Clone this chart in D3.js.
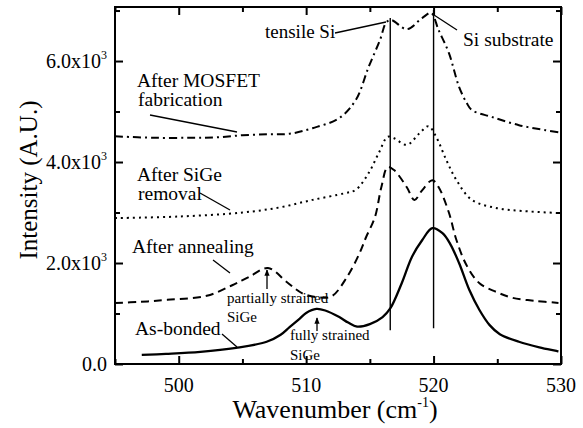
<!DOCTYPE html>
<html>
<head>
<meta charset="utf-8">
<script src="https://cdn.jsdelivr.net/npm/d3@7"></script>
</head>
<body style="margin:0">
<svg id="chart" width="583" height="428"></svg>
<script>
// ---------- data ----------
const xDomain = [495, 530];
const yDomain = [0, 7070];
const xMajorTicks = [500, 510, 520, 530];
const xMinorTicks = [495, 505, 515, 525];
const yMajorTicks = [0, 2000, 4000, 6000];
const yMinorTicks = [1000, 3000, 5000, 7000];
const yTickLabels = ["0.0", "2.0x10", "4.0x10", "6.0x10"];
const yTickSup = ["", "3", "3", "3"];

const asBondedWn = [497.1, 499, 501.7, 504.5, 506.9, 508, 508.7, 509.5, 510.0, 510.8, 511.5, 512.6, 513.3, 514.0, 515.0, 516.0, 516.6, 517.5, 518.3, 519.1, 519.9, 520.7, 521.3, 522.0, 522.8, 523.6, 524.4, 525.2, 526.7, 528.3, 529.8];
const asBondedI  = [180, 200, 240, 320, 440, 580, 730, 900, 1010, 1090, 1060, 930, 820, 740, 790, 930, 1100, 1600, 2120, 2450, 2690, 2590, 2380, 2000, 1470, 1070, 770, 590, 440, 330, 250];

const annealWn = [495, 497, 499.1, 502.2, 504.2, 505.5, 507.0, 508.5, 509.7, 511.0, 512.0, 513.2, 514.2, 514.7, 515.4, 515.9, 516.4, 516.9, 517.9, 518.5, 519.1, 519.9, 520.4, 521.2, 521.8, 522.6, 523.6, 524.9, 526.2, 528, 529.8];
const annealI  = [1210, 1230, 1270, 1350, 1560, 1720, 1900, 1620, 1400, 1320, 1340, 1720, 2200, 2510, 2910, 3500, 3900, 3840, 3500, 3250, 3440, 3640, 3500, 3000, 2450, 1950, 1600, 1430, 1310, 1250, 1210];

const removalWn = [495, 500, 505, 507.9, 510.5, 513, 513.9, 514.9, 515.7, 516.4, 516.9, 517.9, 518.9, 519.6, 520.2, 521.0, 521.8, 523.0, 524.9, 527, 529.8];
const removalI  = [2890, 2920, 3000, 3100, 3250, 3380, 3450, 3780, 4180, 4500, 4470, 4340, 4570, 4710, 4500, 4040, 3640, 3250, 3090, 3030, 2990];

const mosfetWn = [495, 498, 501, 503, 505, 507, 508.7, 510.5, 512.6, 513.9, 514.9, 515.8, 516.3, 516.7, 517.9, 519.1, 519.8, 520.4, 521.2, 522.0, 522.6, 523.0, 524.6, 526.7, 528.8, 529.8];
const mosfetI  = [4510, 4480, 4480, 4490, 4530, 4550, 4560, 4670, 4870, 5230, 5880, 6420, 6770, 6810, 6630, 6850, 6950, 6610, 6160, 5490, 5170, 5030, 4890, 4730, 4630, 4590];

// reference vertical lines: tensile Si and Si substrate
const refLineWn = [516.6, 520.0];
const refLineTop = [6850, 7010];
const refLineBottom = [670, 710];

// ---------- layout ----------
const FONT = "Times";
const margin = { left: 115, right: 22, top: 7, bottom: 64 };
const W = 583, H = 428;
const svg = d3.select("#chart");
const x = d3.scaleLinear().domain(xDomain).range([margin.left, W - margin.right]);
const y = d3.scaleLinear().domain(yDomain).range([H - margin.bottom, margin.top]);

function txt(sel) { return sel.append("text").style("font-family", `"${FONT}"`); }

const series = [
  { wn: asBondedWn, I: asBondedI, dash: null, width: 2.3 },
  { wn: annealWn, I: annealI, dash: "8,5", width: 2 },
  { wn: removalWn, I: removalI, dash: "2,4", width: 2 },
  { wn: mosfetWn, I: mosfetI, dash: "8,4,2,4", width: 2 }
];

const line = d3.line().x(d => x(d[0])).y(d => y(d[1])).curve(d3.curveCatmullRom.alpha(0.5));

series.forEach(s => {
  svg.append("path")
    .datum(s.wn.map((w, i) => [w, s.I[i]]))
    .attr("d", line)
    .attr("fill", "none")
    .attr("stroke", "#000")
    .attr("stroke-width", s.width)
    .attr("stroke-dasharray", s.dash);
});

// vertical reference lines
svg.selectAll(".ref").data(refLineWn).enter().append("line")
  .attr("x1", d => x(d)).attr("x2", d => x(d))
  .attr("y1", (d, i) => y(refLineTop[i])).attr("y2", (d, i) => y(refLineBottom[i]))
  .attr("stroke", "#000").attr("stroke-width", 1.4);

// ---------- axes ----------
const yb = H - margin.bottom, yt = margin.top, xl = margin.left, xr = W - margin.right;
function styleAxis(g) {
  g.select(".domain").remove();
  g.selectAll("line").attr("stroke", "#000").attr("stroke-width", 2);
  g.selectAll("text").remove();
}
svg.append("g").attr("transform", `translate(0,${yb})`).call(d3.axisBottom(x).tickValues(xMajorTicks).tickSize(-8)).call(styleAxis);
svg.append("g").attr("transform", `translate(0,${yb})`).call(d3.axisBottom(x).tickValues(xMinorTicks).tickSize(-5)).call(styleAxis);
svg.append("g").attr("transform", `translate(0,${yt})`).call(d3.axisTop(x).tickValues(xMajorTicks).tickSize(-8)).call(styleAxis);
svg.append("g").attr("transform", `translate(0,${yt})`).call(d3.axisTop(x).tickValues(xMinorTicks).tickSize(-5)).call(styleAxis);
svg.append("g").attr("transform", `translate(${xl},0)`).call(d3.axisLeft(y).tickValues(yMajorTicks).tickSize(-8)).call(styleAxis);
svg.append("g").attr("transform", `translate(${xl},0)`).call(d3.axisLeft(y).tickValues(yMinorTicks).tickSize(-5)).call(styleAxis);
svg.append("g").attr("transform", `translate(${xr},0)`).call(d3.axisRight(y).tickValues(yMajorTicks).tickSize(-8)).call(styleAxis);
svg.append("g").attr("transform", `translate(${xr},0)`).call(d3.axisRight(y).tickValues(yMinorTicks).tickSize(-5)).call(styleAxis);

// frame
svg.append("rect").attr("x", xl).attr("y", yt).attr("width", xr - xl).attr("height", yb - yt)
  .attr("fill", "none").attr("stroke", "#000").attr("stroke-width", 2);

// x tick labels
xMajorTicks.forEach(v => {
  txt(svg).attr("x", x(v)).attr("y", 392).attr("text-anchor", "middle")
    .attr("font-size", 20).text(v);
});

// y tick labels
yMajorTicks.forEach((v, i) => {
  const t = txt(svg).attr("x", 107).attr("y", y(v) + 7)
    .attr("text-anchor", "end").attr("font-size", 20);
  t.append("tspan").text(yTickLabels[i]);
  if (yTickSup[i]) t.append("tspan").attr("dy", -9).attr("font-size", 12).text(yTickSup[i]);
});

// axis titles
const xt = txt(svg).attr("x", 335).attr("y", 418).attr("text-anchor", "middle").attr("font-size", 26);
xt.append("tspan").text("Wavenumber (cm");
xt.append("tspan").attr("dy", -11).attr("font-size", 14).text("-1");
xt.append("tspan").attr("dy", 11).text(")");

txt(svg).attr("transform", "translate(37,180) rotate(-90)")
  .attr("text-anchor", "middle").attr("font-size", 25).text("Intensity (A.U.)");

// ---------- annotations ----------
const ann = [
  ["tensile Si", 265, 38, 19],
  ["Si substrate", 463, 46, 19.5],
  ["After MOSFET", 137, 87, 19.5],
  ["fabrication", 138, 106, 19.5],
  ["After SiGe", 137, 181, 19.5],
  ["removal", 138, 200, 19.5],
  ["After annealing", 132, 253, 19.5],
  ["partially strained", 227, 303, 15],
  ["SiGe", 227, 322, 15],
  ["As-bonded", 135, 335, 19.5],
  ["fully strained", 290, 340, 15],
  ["SiGe", 290, 360, 15]
];
ann.forEach(a => {
  txt(svg).attr("x", a[1]).attr("y", a[2]).attr("font-size", a[3]).text(a[0]);
});

const defs = svg.append("defs");
defs.append("marker").attr("id", "ah").attr("viewBox", "0 0 10 10").attr("refX", 9).attr("refY", 5)
  .attr("markerWidth", 5).attr("markerHeight", 5).attr("orient", "auto")
  .append("path").attr("d", "M0,1 L10,5 L0,9 Z").attr("fill", "#000");

const pointers = [
  [335, 33, 386, 22, false],
  [457, 30, 434, 15, false],
  [150, 115, 237, 132, false],
  [200, 193, 230, 210, false],
  [213, 260, 230, 273, false],
  [222, 334, 237, 347, false],
  [267, 289, 267, 270, true],
  [317, 331, 317, 318, true]
];
pointers.forEach(p => {
  const l = svg.append("line").attr("x1", p[0]).attr("y1", p[1]).attr("x2", p[2]).attr("y2", p[3])
    .attr("stroke", "#000").attr("stroke-width", 1.3);
  if (p[4]) l.attr("marker-end", "url(#ah)");
});
</script>
</body>
</html>
